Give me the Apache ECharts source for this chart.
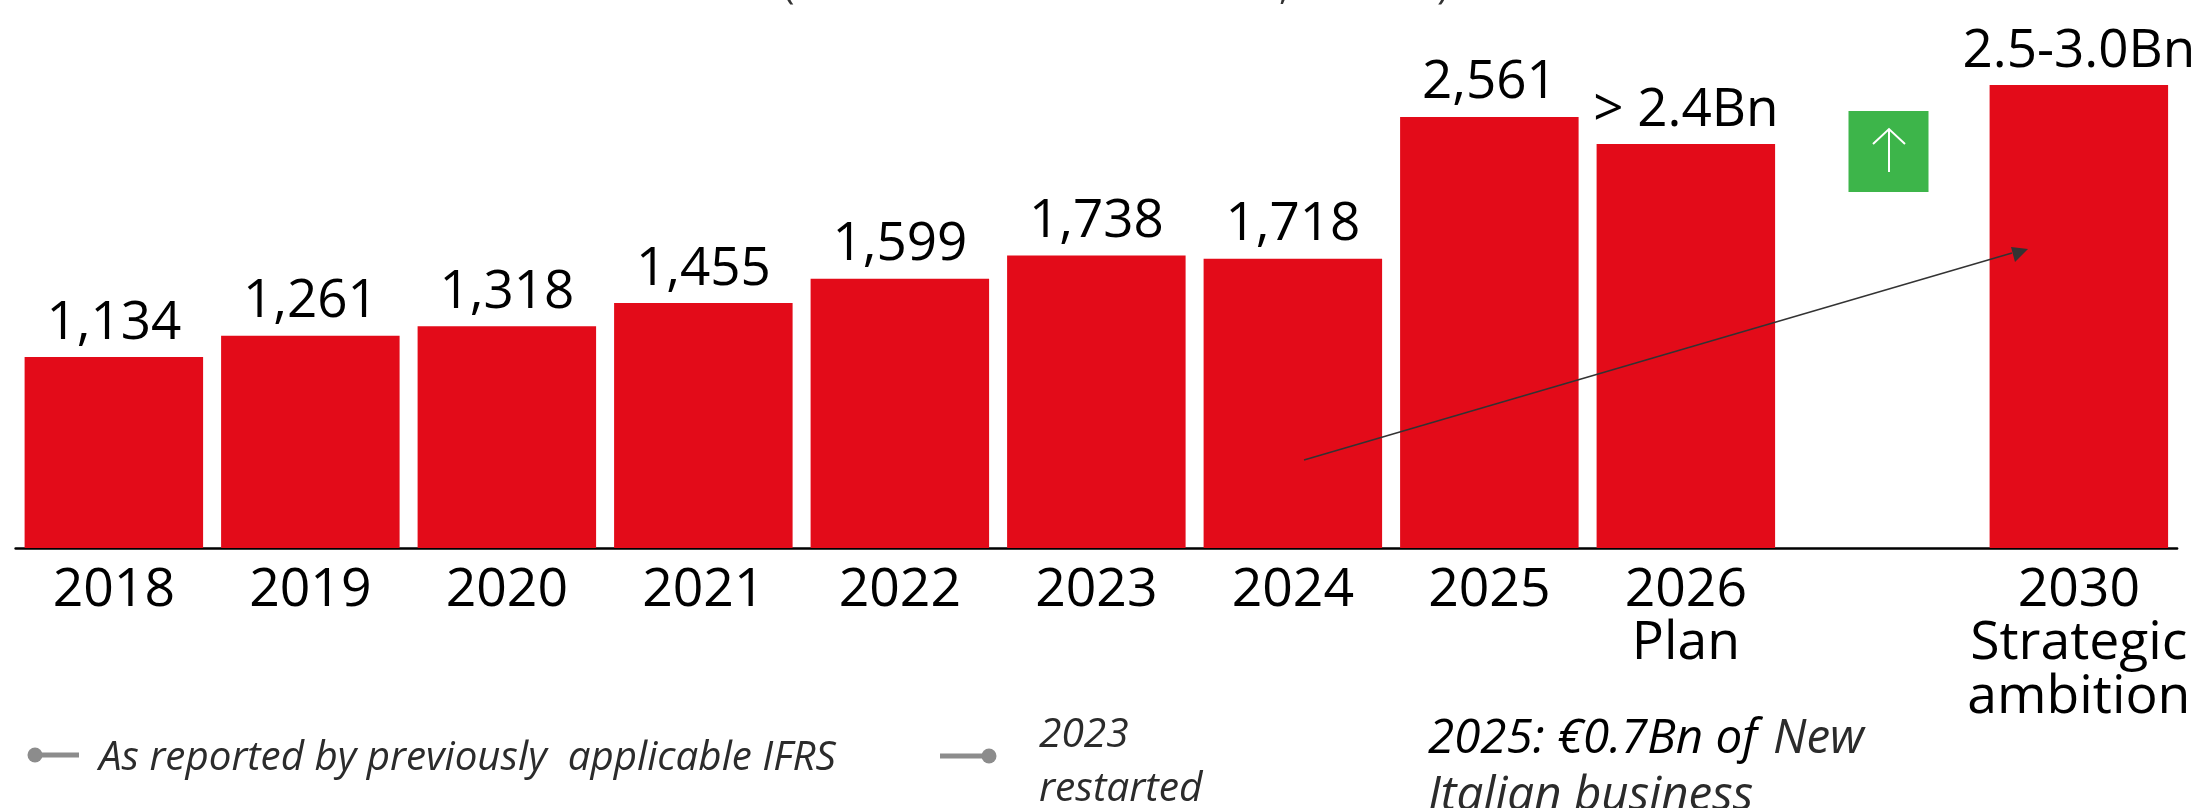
<!DOCTYPE html>
<html><head><meta charset="utf-8">
<style>html,body{margin:0;padding:0;background:#fff}#c{width:2203px;height:808px}</style>
<script src="https://cdn.jsdelivr.net/npm/echarts@6/dist/echarts.min.js"></script>
</head><body><div id="c"></div>
<script>
const categories=['2018','2019','2020','2021','2022','2023','2024','2025','2026\nPlan','','2030\nStrategic\nambition'];
const values=[1134,1261,1318,1455,1599,1738,1718,2561,2400,null,2750];
const valueLabels=['1,134','1,261','1,318','1,455','1,599','1,738','1,718','2,561','> 2.4Bn','','2.5-3.0Bn'];
const legendOne='As reported by previously  applicable IFRS';
const legendTwo='2023\nrestarted';
const noteBlack='2025: €0.7Bn of';
const noteGrey='New';
const noteLine2='Italian business';
const F='"Open Sans"';
const RED='#e30b19',GREY='#8c8c8c',INK='#2b2b2b';
const chart=echarts.init(document.getElementById('c'),null,{renderer:'canvas'});
function text(x,y,t,fill,size,lh){return {type:'text',left:x,top:y,z:100,style:{text:t,font:'italic '+size+'px '+F,fill:fill,lineHeight:lh||53}};}
function clip(x,t){return {type:'text',left:x,top:-39,z:100,style:{text:t,font:'39px '+F,fill:'#333',lineHeight:53}};}
chart.setOption({
 animation:false,
 grid:{left:15.6,width:2161.5,top:43,height:505,containLabel:false},
 xAxis:{type:'category',data:categories,
  axisLine:{lineStyle:{color:'#000',width:2.5}},axisTick:{show:false},
  axisLabel:{interval:0,color:'#000',fontFamily:F,fontSize:53.5,lineHeight:53.5,margin:16}},
 yAxis:{type:'value',min:0,max:3000,show:false,splitLine:{show:false}},
 series:[{type:'bar',data:values,barWidth:178.5,itemStyle:{color:RED},
  label:{show:true,position:'top',distance:7,color:'#000',fontFamily:F,fontSize:53,
   formatter:p=>valueLabels[p.dataIndex]}}],
 graphic:[
  {type:'rect',z:100,shape:{x:1848.5,y:111,width:80,height:81},style:{fill:'#3db54a'}},
  {type:'polyline',z:101,shape:{points:[[1873,144],[1889,129],[1905,144]]},style:{stroke:'#fff',lineWidth:2,fill:null}},
  {type:'line',z:101,shape:{x1:1889,y1:172,x2:1889,y2:130},style:{stroke:'#fff',lineWidth:2}},
  {type:'line',z:100,shape:{x1:1304,y1:460,x2:2012,y2:253},style:{stroke:'#333',lineWidth:1.5}},
  {type:'polygon',z:100,shape:{points:[[2028,249],[2011,247],[2015,262]]},style:{fill:'#333'}},
  {type:'line',z:100,shape:{x1:35,y1:755,x2:79,y2:755},style:{stroke:GREY,lineWidth:5}},
  {type:'circle',z:100,shape:{cx:35,cy:755,r:7.5},style:{fill:GREY}},
  {type:'line',z:100,shape:{x1:940,y1:756,x2:989,y2:756},style:{stroke:GREY,lineWidth:5}},
  {type:'circle',z:100,shape:{cx:989,cy:756,r:7.5},style:{fill:GREY}},
  clip(783,'('),clip(1279,','),clip(1437,')'),
  text(99,732,legendOne,INK,40.3),
  text(1039,708,legendTwo,INK,40.7,54),
  text(1428,713,noteBlack,'#000',47.5),
  text(1773,713,noteGrey,INK,47.5),
  text(1428,770,noteLine2,INK,47.5)
 ]
});
</script></body></html>
